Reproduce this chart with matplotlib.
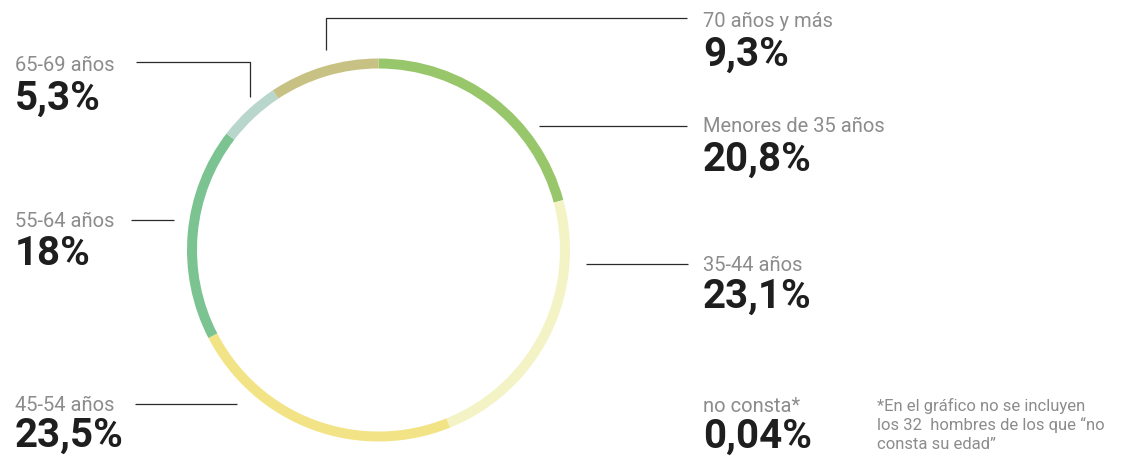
import matplotlib
matplotlib.use('Agg')
import matplotlib.pyplot as plt

plt.rcParams['font.family'] = ['Roboto', 'DejaVu Sans']

# data (clockwise from 12 o'clock)
groups = ['Menores de 35 años', '35-44 años', '45-54 años', '55-64 años', '65-69 años', '70 años y más']
shares = [20.8, 23.1, 23.5, 18.0, 5.3, 9.3]
share_txt = ['20,8%', '23,1%', '23,5%', '18%', '5,3%', '9,3%']
colors = ['#98c66a', '#f3f3c6', '#f2e486', '#7bc391', '#b9d6cc', '#c8c184']
nc_label, nc_txt = 'no consta*', '0,04%'
note = '*En el gráfico no se incluyen\nlos 32  hombres de los que “no\nconsta su edad”'

W, H = 1126, 465
fig = plt.figure(figsize=(W/100, H/100), dpi=100)

# ring
cx, cy, R = 378.5, 250, 191.5
pax = fig.add_axes([(cx-R)/W, (H-cy-R)/H, 2*R/W, 2*R/H])
pax.pie(shares, colors=colors, startangle=90, counterclock=False, radius=1,
        wedgeprops=dict(width=10/R, linewidth=0))
pax.set_xlim(-1, 1); pax.set_ylim(-1, 1)
pax.set_aspect('equal'); pax.axis('off')

# overlay in pixel coords for labels and leader lines
ax = fig.add_axes([0, 0, 1, 1], zorder=3)
ax.set_xlim(0, W); ax.set_ylim(H, 0); ax.axis('off')
ax.patch.set_alpha(0)

lc = dict(color='#2a2a2a', lw=0.9)
leaders = {
    '70 años y más': ([326, 326, 687], [50, 18.3, 18.3]),
    'Menores de 35 años': ([539, 687], [126, 126]),
    '35-44 años': ([586, 688], [264, 264]),
    '45-54 años': ([135, 237], [404, 404]),
    '55-64 años': ([131, 174], [220, 220]),
    '65-69 años': ([136, 250, 250], [62, 62, 97]),
}
for g in groups:
    xs, ys = leaders[g]
    ax.plot(xs, ys, **lc, solid_capstyle='butt')

# label position: (x, label baseline, value baseline)
pos = {
    '70 años y más': (703, 26.7, 66),
    'Menores de 35 años': (703, 132, 171),
    '35-44 años': (703, 270.7, 308),
    '45-54 años': (15, 410.7, 447),
    '55-64 años': (15, 226.7, 265),
    '65-69 años': (15, 70.7, 110),
}
lab_kw = dict(fontsize=14.5, color='#8c8c8c', va='baseline', ha='left')
val_kw = dict(fontsize=29, color='#1e1e1e', fontweight='bold', va='baseline', ha='left')
for g, t in zip(groups, share_txt):
    x, yl, yv = pos[g]
    ax.text(x, yl, g, **lab_kw)
    ax.text(x, yv, t, **val_kw)

ax.text(703, 411.7, nc_label, **lab_kw)
ax.text(703, 448, nc_txt, **val_kw)
ax.text(877, 449, note, fontsize=12, color='#8c8c8c', va='baseline', ha='left',
        linespacing=1.3)

fig.savefig('out.png', dpi=100)
